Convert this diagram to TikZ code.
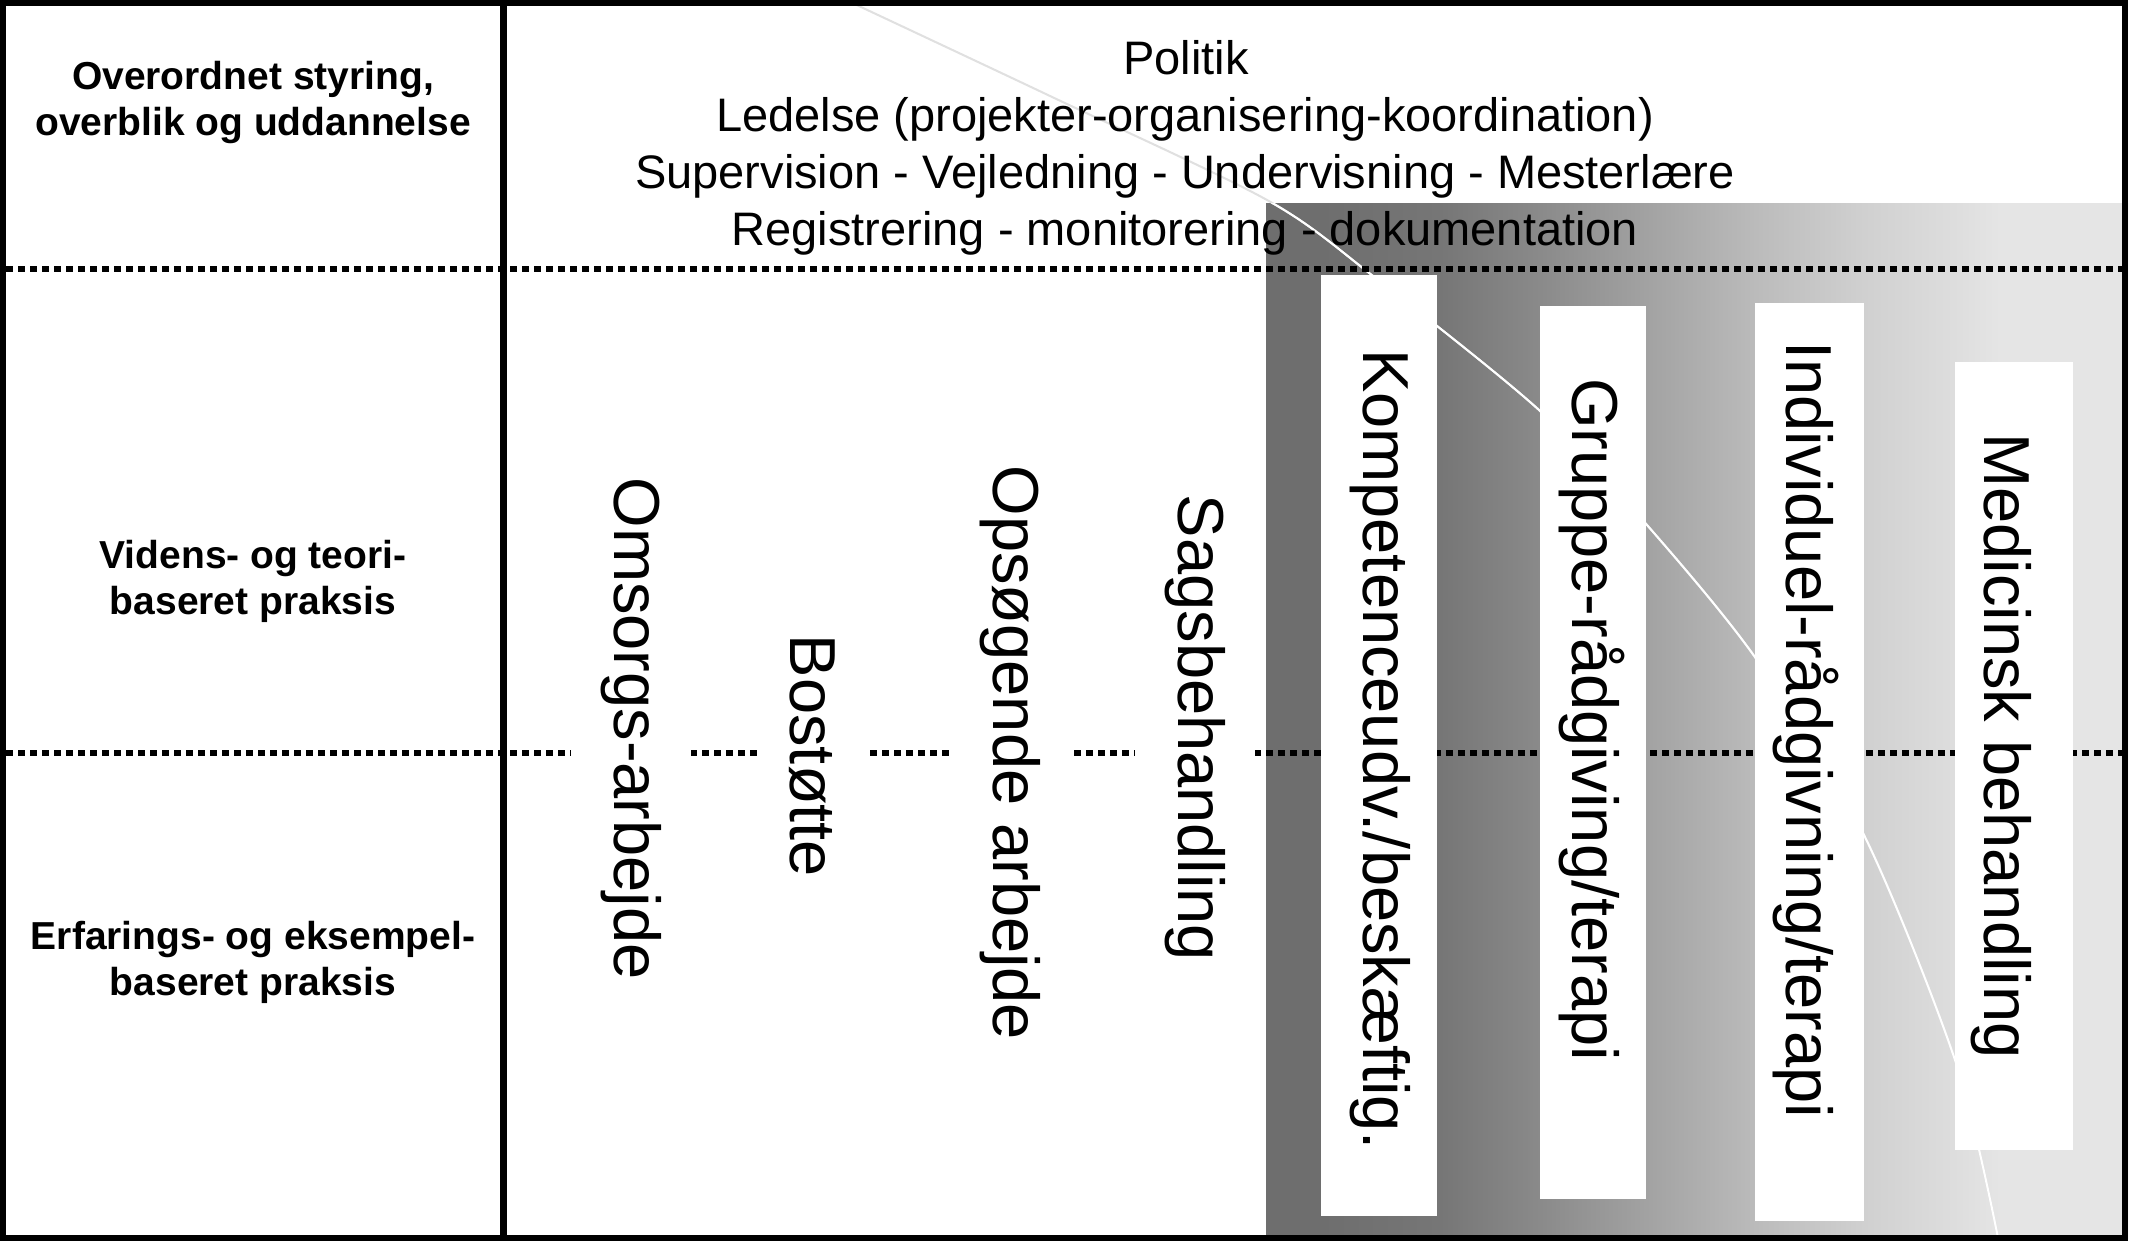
\documentclass[tikz,border=0pt]{standalone}
\usepackage{fontspec}
\setmainfont{Liberation Sans}
\definecolor{gA}{gray}{0.431}
\definecolor{gB}{gray}{0.463}
\definecolor{gC}{gray}{0.541}
\definecolor{gD}{gray}{0.639}
\definecolor{gE}{gray}{0.737}
\definecolor{gF}{gray}{0.816}
\definecolor{gG}{gray}{0.871}
\definecolor{gH}{gray}{0.898}
\definecolor{curvegray}{gray}{0.88}
\pgfdeclarehorizontalshading{grad}{100bp}{color(0bp)=(gA); color(28.13bp)=(gA); color(35.09bp)=(gB); color(40.89bp)=(gC); color(47.27bp)=(gD); color(53.65bp)=(gE); color(59.69bp)=(gF); color(65.26bp)=(gG); color(67.58bp)=(gH); color(100bp)=(gH)}
\tikzset{
  dotline/.style={line width=3pt, dash pattern=on 3.5pt off 2.5pt},
  wbox/.style={fill=white, draw=none, inner sep=0pt},
  vtext/.style={rotate=-90, font=\fontsize{32.5}{39}\selectfont, inner sep=0pt},
  wtext/.style={vtext, fill=white, inner ysep=15pt, inner xsep=2pt},
  toptext/.style={anchor=base, font=\fontsize{23.5}{28.5}\selectfont, inner sep=0pt},
  lefttext/.style={anchor=base, font=\bfseries\fontsize{19.5}{23.4}\selectfont, inner sep=0pt},
  deco/.style={line width=1pt}
}
\begin{document}
\begin{tikzpicture}[x=0.5pt,y=-0.5pt]
\useasboundingbox (0,0) rectangle (2134,1241);
\fill[white] (0,0) rectangle (2134,1241);
% gradient area
\shade[shading=grad] (1266,204) rectangle (2128,1238);
% decorative curve
\draw[deco, curvegray] plot[smooth] coordinates {(846,0) (1050,96) (1267,200) (1373,276) (1539,410) (1647,525) (1757,660) (1864,835) (1956,1063) (1998,1238)};
\begin{scope}
\clip (1266,204) rectangle (2128,1238);
\draw[deco, white] plot[smooth] coordinates {(846,0) (1050,96) (1267,200) (1373,276) (1539,410) (1647,525) (1757,660) (1864,835) (1956,1063) (1998,1238)};
\end{scope}
% dotted separators
\coordinate (d1l) at (6,269);
\coordinate (d1r) at (2122,269);
\coordinate (d2l) at (6,753);
\coordinate (d2r) at (2122,753);
\draw[dotline] (d1l) -- (d1r);
\draw[dotline] (d2l) -- (d2r);
% top texts
\node[toptext] (t1) at (1186,75) {Politik};
\node[toptext] (t2) at (1185,132) {Ledelse (projekter-organisering-koordination)};
\node[toptext] (t3) at (1185,189) {Supervision - Vejledning - Undervisning - Mesterlære};
\node[toptext] (t4) at (1185,245) {Registrering - monitorering - dokumentation};
% left labels
\node[lefttext] (l1a) at (253,90) {Overordnet styring,};
\node[lefttext] (l1b) at (253,136) {overblik og uddannelse};
\node[lefttext] (l2a) at (253,568) {Videns- og teori-};
\node[lefttext] (l2b) at (253,614) {baseret praksis};
\node[lefttext] (l3a) at (253,949) {Erfarings- og eksempel-};
\node[lefttext] (l3b) at (253,995) {baseret praksis};
% white-area vertical texts
\node[wtext] (ot) at (631,728.5) {Omsorgs-arbejde};
\node[wtext] (bt) at (812,756) {Bostøtte};
\node[wtext] (opt) at (1010,753) {Opsøgende arbejde};
\node[wtext] (st) at (1195,728) {Sagsbehandling};
% white boxes in gradient
\node[wbox, minimum width=58pt, minimum height=470.5pt] (kb) at (1379,745.5) {};
\node[wbox, minimum width=53pt, minimum height=446.5pt] (gb) at (1593,752.5) {};
\node[wbox, minimum width=54.5pt, minimum height=459pt] (ib) at (1809.5,762) {};
\node[wbox, minimum width=59pt, minimum height=394pt] (mb) at (2014,756) {};
\node[vtext] (kt) at (1380,749.5) {Kompetenceudv./beskæftig.};
\node[vtext] (gt) at (1592,719.5) {Gruppe-rådgiving/terapi};
\node[vtext] (it) at (1806,729.5) {Individuel-rådgivning/terapi};
\node[vtext] (mt) at (2001,746) {Medicinsk behandling};
% divider and frame
\coordinate (dvt) at (503,0);
\coordinate (dvb) at (503,1241);
\draw[line width=3.5pt] (dvt) -- (dvb);
\draw[line width=3pt] (3,3) rectangle (2125,1238);
\end{tikzpicture}
\end{document}
